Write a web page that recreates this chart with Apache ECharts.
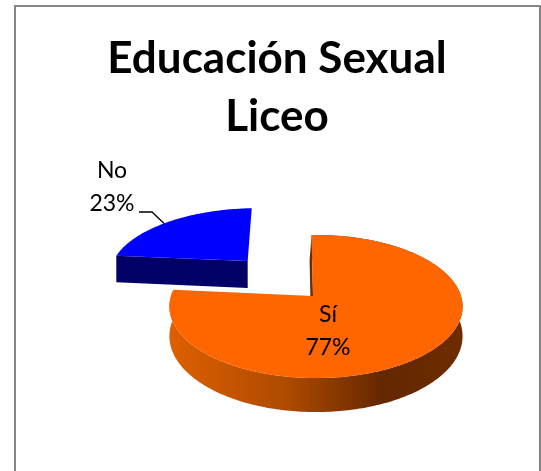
<!DOCTYPE html>
<html><head><meta charset="utf-8">
<style>html,body{margin:0;padding:0;background:#fff}#c{width:541px;height:471px}</style>
<script src="https://cdn.jsdelivr.net/npm/echarts@6/dist/echarts.min.js"></script>
</head><body><div id="c"></div>
<script>
const categories = ['Sí', 'No'];
const values = [77, 23];
const titleLines = ['Educación Sexual', 'Liceo'];

const FONT = 'Lato, "Open Sans", sans-serif';
const geo = {cx: 316, cy: 296, rx: 145, ry: 70, k: 0.147, depth: 29, startDeg: -2};
const look = [
  {top: '#FF6600', wall: null, explode: 0, apexShift: -3, z: 2, label: [328, 331]},
  {top: '#0000FF', wall: '#000066', explode: 0.74, apexShift: 0, z: 1, label: [112, 187]}
];
const total = values.reduce((a, b) => a + b, 0);

function project(u, v, d) {
  const w = 1 - geo.k * v;
  return [geo.cx + geo.rx * u / w, geo.cy + geo.ry * v / w + d * geo.depth / w];
}
function sliceAngles(i) {
  let before = 0;
  for (let j = 0; j < i; j++) before += values[j];
  const a0 = geo.startDeg + before / total * 360;
  return [a0, a0 + values[i] / total * 360];
}

function renderItem(params, api) {
  const i = params.dataIndex, s = look[i];
  const [a0, a1] = sliceAngles(i);
  const mid = (a0 + a1) / 2 * Math.PI / 180;
  const ou = s.explode * Math.sin(mid), ov = -s.explode * Math.cos(mid);
  const rim = (deg, d) => {
    const t = deg * Math.PI / 180;
    return project(ou + Math.sin(t), ov - Math.cos(t), d);
  };
  const arc = [];
  for (let a = a0; a < a1; a += 1) arc.push(a);
  arc.push(a1);
  const shifted = p => [p[0] + s.apexShift, p[1]];
  const apexTop = shifted(project(ou, ov, 0)), apexBot = shifted(project(ou, ov, 1));
  const children = [];
  if (i === 0) {
    const pts = arc.map(a => rim(a, 0)).concat(arc.slice().reverse().map(a => rim(a, 1)));
    children.push({type: 'polygon', z2: s.z, shape: {points: pts}, style: {
      fill: new echarts.graphic.LinearGradient(0, 0, 1, 0, [
        {offset: 0, color: '#DE6000'},
        {offset: 0.4, color: '#AE4A00'},
        {offset: 0.73, color: '#642700'},
        {offset: 1, color: '#6E2C00'}
      ])
    }});
    const t0 = rim(a0, 1), sliver = [apexTop, rim(a0, 0), [t0[0] - 2, t0[1]], [apexBot[0] - 2, apexBot[1]]];
    children.push({type: 'polygon', z2: s.z, shape: {points: sliver}, style: {fill: '#6E2C00'}});
  } else {
    const endTop = rim(a0, 0), endBot = rim(a0, 1);
    children.push({type: 'polygon', z2: s.z, shape: {points: [apexTop, endTop, endBot, apexBot]}, style: {fill: s.wall}});
  }
  children.push({type: 'polygon', z2: s.z, shape: {points: [apexTop].concat(arc.map(a => rim(a, 0)))}, style: {fill: s.top}});
  children.push({type: 'text', z2: 10, style: {
    x: s.label[0], y: s.label[1],
    text: categories[i] + '\n' + Math.round(values[i] / total * 100) + '%',
    font: '23px ' + FONT, lineHeight: 33, fill: '#000', align: 'center', verticalAlign: 'middle'
  }});
  if (i === 1) {
    const p = rim(a0 + 0.46 * (a1 - a0), 0);
    children.push({type: 'polyline', z2: 10, shape: {points: [[139, 212], [152, 212], p]},
      style: {stroke: '#000', lineWidth: 1.3, fill: null}});
  }
  return {type: 'group', children};
}

const chart = echarts.init(document.getElementById('c'), null, {renderer: 'canvas'});
chart.setOption({
  animation: false,
  backgroundColor: '#fff',
  title: {
    text: titleLines.join('\n'), left: 272, top: 25, textAlign: 'center',
    textStyle: {fontFamily: FONT, fontWeight: 'bold', fontSize: 44, lineHeight: 58, color: '#000'}
  },
  graphic: [{type: 'rect', z: -1, shape: {x: 15, y: 6, width: 525, height: 490},
    style: {fill: '#fff', stroke: '#868686', lineWidth: 2}}],
  series: [{type: 'custom', coordinateSystem: 'none', renderItem, silent: true, clip: false,
    data: categories.map((c, i) => ({name: c, value: values[i]}))}]
});
</script></body></html>
